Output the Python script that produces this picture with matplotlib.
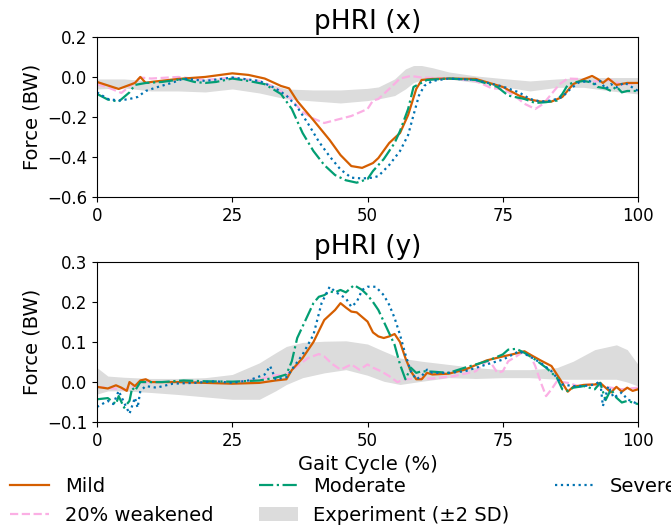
import matplotlib.pyplot as plt
import numpy as np

# colours (seaborn colorblind palette)
c_mild = '#d55e00'
c_mod = '#029e73'
c_sev = '#0173b2'
c_weak = '#fbafe4'
c_band = '#dcdcdc'

# ---- pHRI (x) ----
x_mild_x = [0, 4, 5, 7, 8, 9, 10, 15, 20, 25, 28, 31, 34, 35.5, 37, 40, 43, 45, 47, 49, 51, 52, 54, 56,
            57.5, 59, 60, 62, 65, 70, 75, 78, 80, 82, 84, 86, 88, 90, 91.5, 92.5, 93.5, 94.5, 96, 97, 98, 100]
mild_x = [-0.025, -0.06, -0.05, -0.03, 0.0, -0.03, -0.025, -0.01, 0.0, 0.018, 0.01, -0.008, -0.045, -0.057,
          -0.12, -0.216, -0.315, -0.39, -0.445, -0.454, -0.43, -0.405, -0.33, -0.28, -0.19, -0.06, -0.015,
          -0.01, -0.008, -0.01, -0.05, -0.093, -0.113, -0.123, -0.123, -0.10, -0.036, -0.011, 0.005, -0.01,
          -0.03, -0.008, -0.04, -0.035, -0.03, -0.03]

x_mod_x = [0, 2, 4, 6, 7, 9, 12, 16, 18, 20, 22, 25, 28, 31, 34, 36, 38, 40, 42, 44, 46, 48, 50, 51, 53, 55,
           56, 57.5, 58.5, 59.5, 61, 65, 70, 74, 76, 79, 81, 83, 85, 86, 87, 88, 90, 91.5, 92.5, 94, 95, 96,
           97, 98, 100]
mod_x = [-0.085, -0.113, -0.123, -0.077, -0.04, -0.03, -0.025, -0.01, -0.025, -0.03, -0.025, -0.008, -0.02,
         -0.036, -0.085, -0.16, -0.28, -0.37, -0.44, -0.49, -0.516, -0.528, -0.51, -0.47, -0.41, -0.33, -0.27,
         -0.16, -0.05, -0.036, -0.015, -0.008, -0.015, -0.05, -0.093, -0.11, -0.13, -0.126, -0.118, -0.085,
         -0.04, -0.028, -0.02, -0.028, -0.05, -0.057, -0.07, -0.048, -0.077, -0.07, -0.07]

x_sev_x = [0, 2, 4, 6, 7.5, 9, 11, 14, 16, 20, 25, 30, 33, 35, 37, 39, 41, 43, 45, 47, 49, 51, 52, 54, 56,
           57.5, 58.5, 59.5, 60.5, 62, 65, 70, 75, 78, 80, 82, 84, 86, 87.5, 89, 91, 92, 93, 94, 95, 96,
           97.5, 100]
sev_x = [-0.077, -0.11, -0.118, -0.11, -0.10, -0.07, -0.052, -0.028, -0.008, -0.02, -0.003, -0.02, -0.057,
         -0.093, -0.15, -0.233, -0.323, -0.397, -0.462, -0.503, -0.507, -0.503, -0.495, -0.44, -0.37, -0.29,
         -0.19, -0.093, -0.044, -0.02, -0.008, -0.015, -0.048, -0.077, -0.11, -0.123, -0.118, -0.10, -0.06,
         -0.028, -0.02, -0.036, -0.02, -0.06, -0.036, -0.052, -0.028, -0.07]

x_weak_x = [0, 2, 4.5, 6.5, 8, 10, 15, 20, 25, 30, 33, 35.5, 38, 40, 42, 44, 47, 50, 51, 52, 54, 56, 58, 60,
            65, 70, 73, 75, 77, 79, 81, 82.5, 84, 85.5, 87, 89, 91, 93, 95, 97, 100]
weak_x = [-0.036, -0.052, -0.08, -0.036, -0.003, -0.008, 0.0, -0.015, -0.003, -0.02, -0.052, -0.10, -0.175,
          -0.208, -0.23, -0.216, -0.195, -0.16, -0.118, -0.11, -0.06, -0.008, 0.005, -0.003, -0.007, -0.02,
          -0.057, -0.06, -0.09, -0.134, -0.16, -0.134, -0.085, -0.036, -0.008, -0.01, -0.025, -0.02, -0.015,
          -0.04, -0.028]

x_band_x = [0, 5, 10, 15, 20, 25, 30, 35, 40, 45, 50, 52, 55, 57, 58.5, 60, 62, 65, 70, 75, 80, 85, 90, 95, 100]
band_x_hi = [-0.01, -0.01, -0.02, -0.01, -0.01, 0.0, -0.02, -0.06, -0.065, -0.065, -0.057, -0.05, -0.01,
             0.04, 0.057, 0.057, 0.046, 0.025, 0.005, -0.008, -0.02, -0.01, -0.003, -0.003, -0.003]
band_x_lo = [-0.06, -0.055, -0.07, -0.07, -0.075, -0.06, -0.08, -0.11, -0.12, -0.13, -0.118, -0.11, -0.093,
             -0.06, -0.028, -0.015, -0.01, -0.01, -0.028, -0.048, -0.07, -0.052, -0.052, -0.07, -0.085]

# ---- pHRI (y) ----
x_mild_y = [0, 2, 3.5, 4.5, 5.5, 6, 7, 8, 9, 10, 15, 20, 25, 30, 33, 35, 36, 38, 40, 42, 44, 45, 46, 47, 48,
            50, 51, 52, 53, 54, 55, 56, 57, 58, 59, 60, 61, 62, 65, 68, 72, 75, 77, 79, 80, 82, 84, 86, 87,
            88, 90, 92, 93, 94, 95, 96, 97, 98, 99, 100]
mild_y = [-0.012, -0.016, -0.008, -0.014, -0.022, 0.0, -0.01, 0.004, 0.007, 0.0, 0.0, -0.002, -0.004, -0.002,
          0.004, 0.007, 0.03, 0.06, 0.10, 0.155, 0.18, 0.197, 0.186, 0.176, 0.174, 0.151, 0.124, 0.114, 0.11,
          0.114, 0.12, 0.10, 0.06, 0.027, 0.007, 0.007, 0.023, 0.019, 0.021, 0.031, 0.054, 0.064, 0.07, 0.077,
          0.069, 0.054, 0.04, -0.002, -0.024, -0.012, -0.007, -0.006, -0.002, -0.014, -0.026, -0.012, -0.024,
          -0.014, -0.022, -0.018]

x_mod_y = [0, 2, 3.5, 4, 5, 6, 6.5, 7, 8, 9, 12, 16, 20, 25, 30, 33, 35, 36, 37, 38, 40, 41, 42, 43, 44, 45,
           46, 47.5, 49, 50, 51, 52, 53, 54, 55, 56, 57, 58, 59, 60, 62, 65, 68, 72, 75, 76, 77.5, 79, 81, 83,
           85, 86, 87, 88, 90, 92, 93, 94, 95, 96, 97, 98, 100]
mod_y = [-0.043, -0.04, -0.055, -0.035, -0.064, -0.047, -0.014, -0.022, 0.0, 0.0, 0.0, 0.004, 0.002, 0.001,
         0.004, 0.011, 0.019, 0.052, 0.11, 0.139, 0.197, 0.213, 0.217, 0.226, 0.224, 0.23, 0.224, 0.242, 0.23,
         0.217, 0.20, 0.18, 0.151, 0.122, 0.093, 0.044, 0.007, 0.036, 0.023, 0.027, 0.026, 0.023, 0.036, 0.052,
         0.069, 0.081, 0.083, 0.073, 0.056, 0.036, 0.011, -0.018, -0.022, -0.014, -0.01, -0.018, -0.002,
         -0.045, -0.018, -0.039, -0.051, -0.047, -0.055]

x_sev_y = [0, 2, 3, 4, 5, 6, 7, 7.5, 8, 9, 11, 14, 18, 22, 25, 28, 31, 32, 33, 35, 36, 38, 40, 41.5, 43, 44,
           45, 46, 47, 48, 49, 50, 51.5, 53, 54, 55, 56, 57, 58, 59, 60, 61, 62, 65, 68, 72, 75, 77, 78, 80,
           82, 84, 86, 88, 90, 92, 93, 93.5, 94.5, 95.5, 97, 98, 100]
sev_y = [-0.062, -0.047, -0.055, -0.022, -0.051, -0.079, -0.039, -0.064, -0.022, -0.01, -0.014, -0.004,
         -0.002, 0.002, -0.002, 0.004, 0.019, 0.04, 0.007, 0.012, 0.031, 0.069, 0.118, 0.197, 0.238, 0.226,
         0.217, 0.209, 0.188, 0.20, 0.23, 0.238, 0.238, 0.217, 0.193, 0.16, 0.118, 0.069, 0.027, 0.007, 0.015,
         0.031, 0.023, 0.023, 0.027, 0.044, 0.056, 0.07, 0.077, 0.064, 0.048, 0.027, -0.006, -0.01, -0.01,
         -0.006, 0.002, -0.06, -0.01, -0.039, -0.026, -0.043, -0.055]

x_weak_y = [0, 3, 5, 7, 9, 15, 20, 25, 30, 33, 35, 37, 39, 41, 42, 43.5, 45, 47, 48.5, 50, 51, 52.5, 54,
            55.5, 57, 59, 62, 66, 70, 72, 73, 74, 75, 76, 77, 78.5, 80, 81, 82, 83, 84, 85, 87, 89, 91, 93,
            95, 97, 100]
weak_y = [-0.012, -0.016, -0.018, -0.01, 0.0, 0.0, 0.0, 0.0, 0.007, 0.017, 0.019, 0.04, 0.06, 0.07, 0.064,
          0.045, 0.031, 0.044, 0.031, 0.044, 0.036, 0.027, 0.015, 0.0, 0.007, 0.009, 0.009, 0.015, 0.027,
          0.052, 0.044, 0.023, 0.027, 0.052, 0.06, 0.073, 0.069, 0.04, 0.0, -0.035, -0.018, 0.002, -0.002,
          -0.01, -0.006, -0.01, -0.014, -0.018, -0.014]

x_band_y = [0, 2, 5, 10, 15, 20, 25, 30, 33, 35, 38, 42, 46, 50, 53, 56, 60, 65, 70, 75, 80, 85, 88, 92, 96,
            98, 100]
band_y_hi = [0.036, 0.015, 0.012, 0.009, 0.009, 0.011, 0.019, 0.048, 0.073, 0.089, 0.099, 0.102, 0.103,
             0.095, 0.077, 0.06, 0.052, 0.044, 0.036, 0.031, 0.031, 0.036, 0.052, 0.081, 0.093, 0.081, 0.044]
band_y_lo = [-0.03, -0.022, -0.022, -0.026, -0.031, -0.037, -0.043, -0.043, -0.022, -0.006, 0.011, 0.023,
             0.031, 0.017, 0.002, -0.006, 0.002, 0.011, 0.009, 0.011, 0.011, 0.007, 0.007, 0.007, 0.007, 0.0,
             -0.01]

fig = plt.figure(figsize=(6.71, 5.27), dpi=100)
ax1 = fig.add_axes([0.1446, 0.626, 0.8063, 0.304])
ax2 = fig.add_axes([0.1446, 0.199, 0.8063, 0.304])

lw = 1.6

ax1.fill_between(x_band_x, band_x_lo, band_x_hi, color=c_band, lw=0)
ax1.plot(x_weak_x, weak_x, color=c_weak, ls='--', lw=lw)
ax1.plot(x_mild_x, mild_x, color=c_mild, ls='-', lw=lw)
ax1.plot(x_mod_x, mod_x, color=c_mod, ls='-.', lw=lw)
ax1.plot(x_sev_x, sev_x, color=c_sev, ls=':', lw=lw)
ax1.set_xlim(0, 100)
ax1.set_ylim(-0.6, 0.2)
ax1.set_yticks([-0.6, -0.4, -0.2, 0.0, 0.2])
ax1.set_title('pHRI (x)', fontsize=19)
ax1.set_ylabel('Force (BW)', fontsize=14)

ax2.fill_between(x_band_y, band_y_lo, band_y_hi, color=c_band, lw=0, label='Experiment (±2 SD)')
ax2.plot(x_weak_y, weak_y, color=c_weak, ls='--', lw=lw, label='20% weakened')
ax2.plot(x_mild_y, mild_y, color=c_mild, ls='-', lw=lw, label='Mild')
ax2.plot(x_mod_y, mod_y, color=c_mod, ls='-.', lw=lw, label='Moderate')
ax2.plot(x_sev_y, sev_y, color=c_sev, ls=':', lw=lw, label='Severe')
ax2.set_xlim(0, 100)
ax2.set_ylim(-0.1, 0.3)
ax2.set_yticks([-0.1, 0.0, 0.1, 0.2, 0.3])
ax2.set_title('pHRI (y)', fontsize=19)
ax2.set_ylabel('Force (BW)', fontsize=14)
ax2.set_xlabel('Gait Cycle (%)', fontsize=14)

for ax in (ax1, ax2):
    ax.set_xticks([0, 25, 50, 75, 100])
    ax.tick_params(labelsize=12)

h, l = ax2.get_legend_handles_labels()
order = [2, 1, 3, 0, 4]
fig.legend([h[i] for i in order], [l[i] for i in order], ncol=3, loc='upper center',
           bbox_to_anchor=(0.5125, 0.128), frameon=False, fontsize=14, columnspacing=2.35)

fig.savefig('out.png', dpi=100)
